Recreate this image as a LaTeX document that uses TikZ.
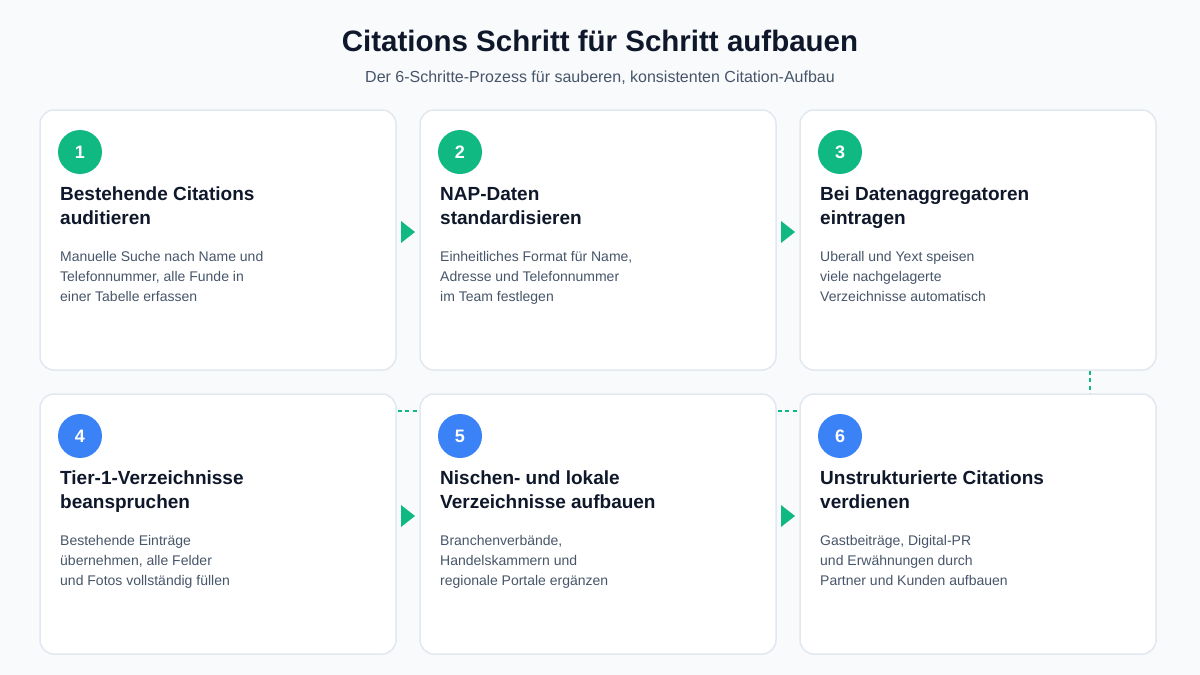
\documentclass[tikz,border=0pt]{standalone}
\usepackage{fontspec}
\setmainfont{Liberation Sans}
\usetikzlibrary{calc}
\definecolor{bg}{HTML}{F8FAFC}
\definecolor{cardborder}{HTML}{E2E8F0}
\definecolor{stepgreen}{HTML}{10B981}
\definecolor{stepblue}{HTML}{3B82F6}
\definecolor{titlecol}{HTML}{0F172A}
\definecolor{bodycol}{HTML}{475569}
\tikzset{
  card/.style={draw=cardborder, line width=1.5pt, fill=white, rounded corners=14pt,
    minimum width=356pt, minimum height=260pt, inner sep=0pt},
  numcircle/.style={circle, minimum size=44pt, inner sep=0pt, text=white,
    font=\fontsize{18}{18}\selectfont\bfseries},
  cardtitle/.style={anchor=base west, inner sep=0pt, text=titlecol,
    font=\fontsize{19}{22}\selectfont\bfseries},
  cardbody/.style={anchor=base west, inner sep=0pt, text=bodycol,
    font=\fontsize{14}{17}\selectfont},
  conn/.style={draw=stepgreen, line width=2pt, dash pattern=on 4pt off 3.5pt},
  arrowfill/.style={fill=stepgreen}
}
\begin{document}
\begin{tikzpicture}[x=1pt,y=-1pt]
\useasboundingbox (0,0) rectangle (1200,675);
\fill[bg] (0,0) rectangle (1200,675);
\node[anchor=base, inner sep=0pt, text=titlecol, font=\fontsize{29.5}{32}\selectfont\bfseries] (title) at (600,51) {Citations Schritt für Schritt aufbauen};
\node[anchor=base, inner sep=0pt, text=bodycol, font=\fontsize{16}{19}\selectfont] (subtitle) at (600,82) {Der 6-Schritte-Prozess für sauberen, konsistenten Citation-Aufbau};
\foreach \i/\cx/\cy/\col/\ta/\tb/\ba/\bb/\bc in {
 1/40/110/stepgreen/{Bestehende Citations}/{auditieren}/{Manuelle Suche nach Name und}/{Telefonnummer, alle Funde in}/{einer Tabelle erfassen},
 2/420/110/stepgreen/{NAP-Daten}/{standardisieren}/{Einheitliches Format für Name,}/{Adresse und Telefonnummer}/{im Team festlegen},
 3/800/110/stepgreen/{Bei Datenaggregatoren}/{eintragen}/{Uberall und Yext speisen}/{viele nachgelagerte}/{Verzeichnisse automatisch},
 4/40/394/stepblue/{Tier-1-Verzeichnisse}/{beanspruchen}/{Bestehende Einträge}/{übernehmen, alle Felder}/{und Fotos vollständig füllen},
 5/420/394/stepblue/{Nischen- und lokale}/{Verzeichnisse aufbauen}/{Branchenverbände,}/{Handelskammern und}/{regionale Portale ergänzen},
 6/800/394/stepblue/{Unstrukturierte Citations}/{verdienen}/{Gastbeiträge, Digital-PR}/{und Erwähnungen durch}/{Partner und Kunden aufbauen}}
{
  \node[card] (c\i) at (\cx+178,\cy+130) {};
  \node[numcircle, fill=\col] (n\i) at (\cx+40,\cy+42) {\i};
  \node[cardtitle] (ta\i) at (\cx+20,\cy+90) {\ta};
  \node[cardtitle] (tb\i) at (\cx+20,\cy+114) {\tb};
  \node[cardbody] (ba\i) at (\cx+20,\cy+151) {\ba};
  \node[cardbody] (bb\i) at (\cx+20,\cy+171) {\bb};
  \node[cardbody] (bc\i) at (\cx+20,\cy+191) {\bc};
}
% arrows
\foreach \a/\b in {1/2,2/3,4/5,5/6}{
  \fill[arrowfill] ($(c\a.east)!0.5!(c\b.west)+(-7,-19)$) -- ++(0,22) -- ++(14,-11) -- cycle;
}
% dashed connectors
\draw[conn] ([xshift=112pt]c3.south) -- ([xshift=112pt]c6.north);
\draw[conn] ([xshift=1pt,yshift=113pt]c4.east) -- ([yshift=113pt]c5.west);
\draw[conn] ([xshift=1pt,yshift=113pt]c5.east) -- ([yshift=113pt]c6.west);
\end{tikzpicture}
\end{document}
